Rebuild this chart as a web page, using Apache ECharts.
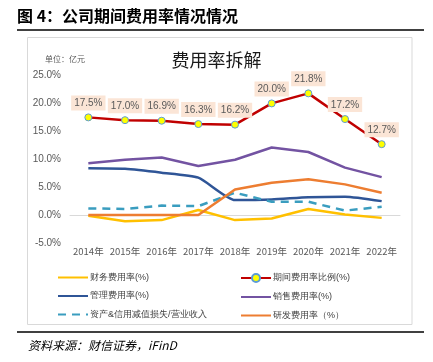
<!DOCTYPE html>
<html><head><meta charset="utf-8">
<script src="https://cdn.jsdelivr.net/npm/echarts@6/dist/echarts.min.js"></script>
<style>html,body{margin:0;padding:0;background:#fff}#c{width:433px;height:362px}</style>
</head><body><div id="c"></div>
<script>
var categories = ['2014年','2015年','2016年','2017年','2018年','2019年','2020年','2021年','2022年'];
var financeRate = [-0.1, -1.1, -0.9, 0.9, -0.9, -0.6, 1.1, 0.1, -0.5];
var periodRate = [17.5, 17.0, 16.9, 16.3, 16.2, 20.0, 21.8, 17.2, 12.7];
var adminRate = [8.4, 8.3, 7.6, 6.7, 2.7, 2.8, 3.2, 3.3, 2.5];
var salesRate = [9.3, 9.9, 10.3, 8.8, 9.9, 12.1, 11.3, 8.5, 6.8];
var impairRate = [1.2, 1.1, 1.7, 1.6, 4.0, 2.4, 2.4, 0.8, 1.5];
var rdRate = [0, 0, 0, 0, 4.6, 5.8, 6.4, 5.5, 4.0];
var yTicks = {min: -5, max: 25, interval: 5};
var names = ['财务费用率(%)','期间费用率比例(%)','管理费用率(%)','销售费用率(%)','资产&信用减值损失/营业收入','研发费用率（%）'];

var chart = echarts.init(document.getElementById('c'));
var txt = '#595959';
function line(name, data, color, extra) {
  var s = {name: name, type: 'line', data: data, symbol: 'none', lineStyle: {color: color, width: 2.5}, itemStyle: {color: color}};
  for (var k in extra) s[k] = extra[k];
  return s;
}
function li(n) { return {name: n, itemStyle: {opacity: 0}}; }
chart.setOption({
  animation: false,
  title: {text: '费用率拆解', left: 'center', top: 46, textStyle: {fontSize: 18, fontWeight: 'normal', color: '#1a1a1a', fontFamily: 'Noto Sans CJK SC'}},
  grid: {left: 70, right: 33, top: 75.5, bottom: 119},
  xAxis: {type: 'category', data: categories, boundaryGap: true,
    axisLine: {onZero: true, lineStyle: {color: '#d9d9d9', width: 1}}, axisTick: {show: false},
    axisLabel: {interval: 0, color: txt, fontSize: 9.5, margin: 4, fontFamily: 'Noto Sans CJK SC'}},
  yAxis: {type: 'value', min: yTicks.min, max: yTicks.max, interval: yTicks.interval,
    splitLine: {show: false}, axisLine: {show: false}, axisTick: {show: false},
    axisLabel: {color: txt, fontSize: 10, margin: 9, formatter: function(v){return v.toFixed(1)+'%';}}},
  legend: [
    {data: [li(names[0]), li(names[2]), li(names[4])], orient: 'vertical', left: 52, top: 268, itemWidth: 30, itemHeight: 10, itemGap: 9.5,
     textStyle: {fontSize: 9, color: '#404040', padding: [0,0,0,-3]}},
    {data: [names[1], li(names[3]), li(names[5])], orient: 'vertical', left: 235, top: 268, itemWidth: 30, itemHeight: 10, itemGap: 9.5,
     textStyle: {fontSize: 9, color: '#404040', padding: [0,0,0,-3]}}
  ],
  series: [
    line(names[0], financeRate, '#ffc000', {}),
    line(names[2], adminRate, '#2f5597', {smooth: 0.2}),
    line(names[3], salesRate, '#7353a2', {}),
    line(names[4], impairRate, '#3a9dbf', {lineStyle: {color: '#3a9dbf', width: 2.5, type: [8, 6]}}),
    line(names[5], rdRate, '#ed7d31', {}),
    line(names[1], periodRate, '#c00000', {symbol: 'circle', symbolSize: 7, z: 5,
      itemStyle: {color: '#ffff00', borderColor: '#5b9bd5', borderWidth: 1},
      lineStyle: {color: '#c00000', width: 2.5},
      label: {show: true, position: 'top', distance: 3, color: txt, fontSize: 10,
        backgroundColor: '#fbe5d6', padding: [3, 3, 2, 3],
        formatter: function(p){return p.value.toFixed(1)+'%';}}})
  ],
  graphic: [
    {type: 'text', left: 17, top: 8, style: {text: '图 4：公司期间费用率情况情况', fontSize: 16, fontWeight: 'bold', fill: '#000', fontFamily: 'Noto Sans CJK SC'}},
    {type: 'line', shape: {x1: 17, y1: 30, x2: 424, y2: 30}, style: {stroke: '#000', lineWidth: 1.5}},
    {type: 'rect', shape: {x: 27.5, y: 37.5, width: 384.5, height: 287}, style: {fill: 'none', stroke: '#d9d9d9', lineWidth: 1}, z: -1},
    {type: 'text', left: 45, top: 55, style: {text: '单位：亿元', fontSize: 8, fill: txt, fontFamily: 'Noto Sans CJK SC'}},
    {type: 'line', shape: {x1: 17, y1: 332, x2: 424, y2: 332}, style: {stroke: '#404040', lineWidth: 2}},
    {type: 'text', left: 28, top: 339, style: {text: '资料来源：财信证券，iFinD', fontSize: 12, fontStyle: 'italic', fill: '#000', fontFamily: 'Noto Sans CJK SC'}}
  ]
});
</script></body></html>
